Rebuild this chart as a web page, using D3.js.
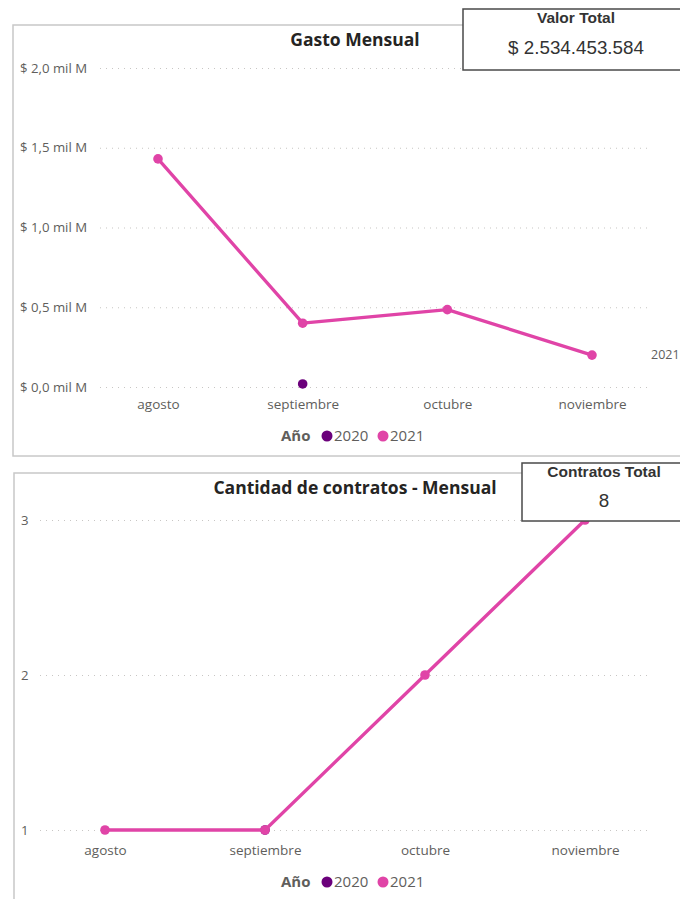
<!DOCTYPE html>
<html><head><meta charset="utf-8">
<script src="https://cdn.jsdelivr.net/npm/d3@7"></script>
<style>
html,body{margin:0;padding:0;background:#fff;overflow:hidden}
svg{display:block}
</style></head>
<body>
<svg id="c" width="680" height="899"></svg>
<script>
const months = ["agosto","septiembre","octubre","noviembre"];
const years = ["2020","2021"];
const gasto2021 = [1.43, 0.40, 0.485, 0.20];
const gasto2020 = [null, 0.019, null, null];
const gastoTicks = [0, 0.5, 1.0, 1.5, 2.0];
const contratos2021 = [1, 1, 2, 3];
const contratos2020 = [null, 1, null, null];
const contratosTicks = [1, 2, 3];
const valorTotal = "$ 2.534.453.584";
const contratosTotal = "8";

const colors = {"2020":"#6B007B","2021":"#E044A7"};
const font = "'Segoe UI','Open Sans','Noto Sans',sans-serif";
const svg = d3.select("#c");

function panel(cfg){
  const g = svg.append("g");
  g.append("rect").attr("x",cfg.box[0]).attr("y",cfg.box[1]).attr("width",cfg.box[2]).attr("height",cfg.box[3])
    .attr("fill","#fff").attr("stroke","#C8C8C8").attr("stroke-width",1.5);
  g.append("text").attr("x",cfg.titleX).attr("y",cfg.titleY).attr("text-anchor","middle")
    .attr("font-family",font).attr("font-weight","bold").attr("font-size",17.5).attr("fill","#252423").text(cfg.title);
  const x = d3.scalePoint().domain(months).range(cfg.xr);
  const y = d3.scaleLinear().domain(cfg.yd).range(cfg.yr);
  const yAxis = d3.axisLeft(y).tickValues(cfg.ticks).tickSize(-(cfg.gx[1]-cfg.gx[0])).tickFormat(cfg.fmt);
  const ga = g.append("g").attr("transform",`translate(${cfg.gx[0]},0)`).call(yAxis);
  ga.select(".domain").remove();
  ga.selectAll(".tick line").attr("stroke","#C8C6C4").attr("stroke-dasharray","1,5").attr("stroke-width",1.2);
  ga.selectAll(".tick text").attr("x",cfg.labelX - cfg.gx[0]).attr("text-anchor","start")
    .attr("font-family",font).attr("font-size",13.2).attr("fill","#605E5C");
  const xAxis = d3.axisBottom(x).tickSize(0);
  const gx = g.append("g").attr("transform",`translate(0,${cfg.xLabelY})`).call(xAxis);
  gx.select(".domain").remove();
  gx.selectAll(".tick text").attr("dy",0).attr("font-family",font).attr("font-size",13.5).attr("fill","#605E5C");
  const line = d3.line().defined(d=>d.v!=null).x(d=>x(d.m)).y(d=>y(d.v));
  cfg.series.forEach(s=>{
    const pts = months.map((m,i)=>({m, v:s.vals[i]}));
    g.append("path").datum(pts).attr("d",line).attr("fill","none").attr("stroke",colors[s.year])
      .attr("stroke-width",3.3).attr("stroke-linejoin","round");
    g.selectAll(null).data(pts.filter(d=>d.v!=null)).enter().append("circle")
      .attr("cx",d=>x(d.m)).attr("cy",d=>y(d.v)).attr("r",4.8).attr("fill",colors[s.year]);
  });
  const lg = g.append("g").attr("font-family",font).attr("font-size",15);
  lg.append("text").attr("x",281).attr("y",cfg.legY+5).attr("font-weight","bold").attr("fill","#605E5C").text("Año");
  const lx = [327, 383];
  years.forEach((yr,i)=>{
    lg.append("circle").attr("cx",lx[i]).attr("cy",cfg.legY).attr("r",5.5).attr("fill",colors[yr]);
    lg.append("text").attr("x",lx[i]+7).attr("y",cfg.legY+5).attr("fill","#605E5C").text(yr);
  });
  return {x,y,g};
}

const p1 = panel({
  box:[13,25,700,431], title:"Gasto Mensual", titleX:355, titleY:46,
  xr:[158,592], yd:[0,2], yr:[387,68], ticks:gastoTicks, gx:[100,652], labelX:20,
  fmt:d=>"$ " + d3.format(".1f")(d).replace(".",",") + " mil M",
  xLabelY:406, legY:436,
  series:[{year:"2020",vals:gasto2020},{year:"2021",vals:gasto2021}]
});
p1.g.append("text").attr("x",651).attr("y",p1.y(gasto2021[3])+4).attr("font-family",font).attr("font-size",12.5)
  .attr("fill","#605E5C").text(years[1]);

const p2 = panel({
  box:[14,473,700,460], title:"Cantidad de contratos - Mensual", titleX:355, titleY:494,
  xr:[105,585], yd:[1,3], yr:[830,520], ticks:contratosTicks, gx:[40,652], labelX:21,
  fmt:d3.format("d"),
  xLabelY:852, legY:882,
  series:[{year:"2020",vals:contratos2020},{year:"2021",vals:contratos2021}]
});

function card(x0,y0,w,h,label,value,labY,valY,labSize,valSize){
  const g = svg.append("g");
  g.append("rect").attr("x",x0).attr("y",y0).attr("width",w).attr("height",h).attr("fill","#fff")
    .attr("stroke","#4A4A4A").attr("stroke-width",1.5);
  const cx = x0 + w/2;
  g.append("text").attr("x",cx).attr("y",labY).attr("text-anchor","middle").attr("font-family","'Liberation Sans',Arial,sans-serif")
    .attr("font-weight","bold").attr("font-size",labSize).attr("fill","#333").text(label);
  g.append("text").attr("x",cx).attr("y",valY).attr("text-anchor","middle").attr("font-family","'Liberation Sans',Arial,sans-serif")
    .attr("font-size",valSize).attr("fill","#333").text(value);
}
card(463,9,226,61,"Valor Total",valorTotal,23,54,15.5,18.8);
card(522,463,164,58,"Contratos Total",contratosTotal,477,507,15.5,18.8);
</script>
</body></html>
